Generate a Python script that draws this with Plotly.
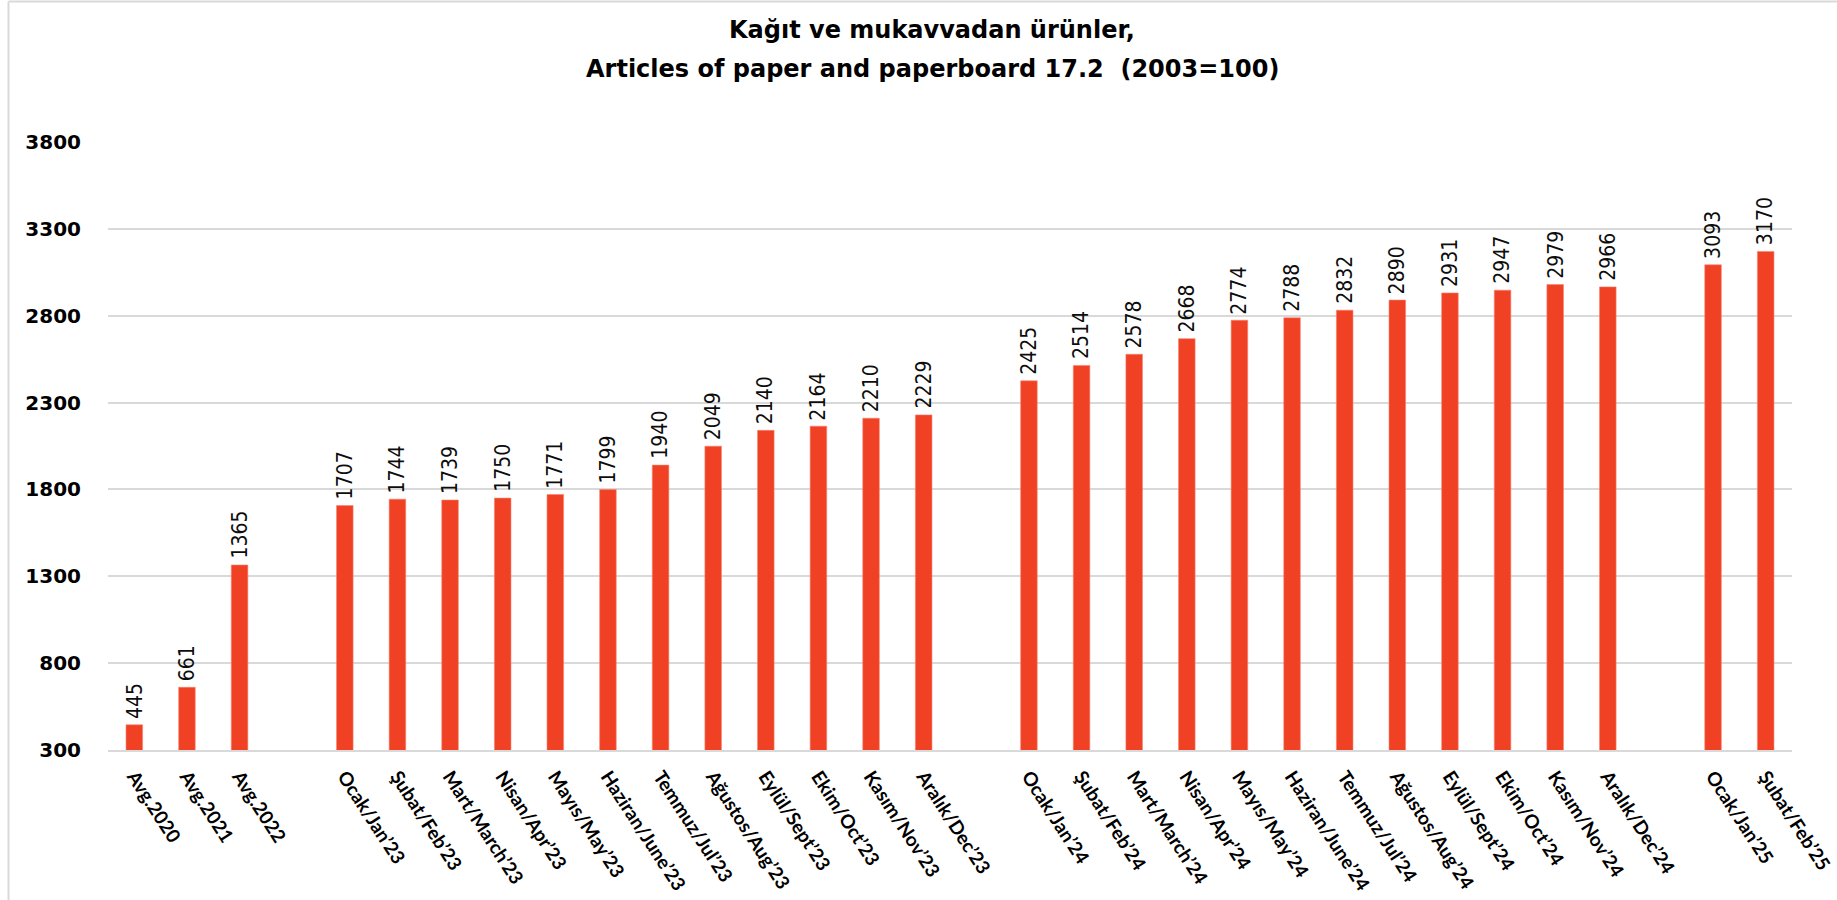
import plotly.graph_objects as go

# ---- data ----
categories = [
    "Avg.2020", "Avg.2021", "Avg.2022", " ",
    "Ocak/Jan’23", "Şubat/Feb’23", "Mart/March’23", "Nisan/Apr’23", "Mayıs/May’23",
    "Haziran/June’23", "Temmuz/Jul’23", "Ağustos/Aug’23", "Eylül/Sept’23",
    "Ekim/Oct’23", "Kasım/Nov’23", "Aralık/Dec’23", "  ",
    "Ocak/Jan’24", "Şubat/Feb’24", "Mart/March’24", "Nisan/Apr’24", "Mayıs/May’24",
    "Haziran/June’24", "Temmuz/Jul’24", "Ağustos/Aug’24", "Eylül/Sept’24",
    "Ekim/Oct’24", "Kasım/Nov’24", "Aralık/Dec’24", "   ",
    "Ocak/Jan’25", "Şubat/Feb’25",
]
values = [
    445, 661, 1365, None,
    1707, 1744, 1739, 1750, 1771, 1799, 1940, 2049, 2140, 2164, 2210, 2229, None,
    2425, 2514, 2578, 2668, 2774, 2788, 2832, 2890, 2931, 2947, 2979, 2966, None,
    3093, 3170,
]
y_ticks = [300, 800, 1300, 1800, 2300, 2800, 3300, 3800]
title_line1 = "Kağıt ve mukavvadan ürünler,"
title_line2 = "Articles of paper and paperboard 17.2  (2003=100)"

# ---- layout constants ----
W, H = 1837, 900
ML, MR, MT, MB = 108, 45, 142, 150
PW, PH = W - ML - MR, H - MT - MB
BAR_COLOR = "#F04124"
GRID = "#D9D9D9"


def px_x(X):
    return (X - ML) / PW


def px_y(Y):
    return (H - MB - Y) / PH


fig = go.Figure()
fig.add_trace(go.Bar(
    x=categories, y=values,
    marker=dict(color=BAR_COLOR, line=dict(color="#F6836F", width=0.6)),
    hoverinfo="x+y",
))

annotations = []
for c, v in zip(categories, values):
    if v is None:
        continue
    annotations.append(dict(
        x=c, y=v, xref="x", yref="y", text=str(v), showarrow=False,
        textangle=-90, xanchor="center", yanchor="bottom", yshift=4,
        font=dict(family="DejaVu Sans Condensed, Lato, sans-serif", size=21, color="#0d0d0d"),
    ))

TITLE_FONT = dict(family="DejaVu Sans, sans-serif", size=24, color="#000000", weight="bold")
annotations.append(dict(
    x=px_x(932), y=px_y(30), xref="paper", yref="paper", text=title_line1,
    showarrow=False, xanchor="center", yanchor="middle", font=TITLE_FONT,
))
annotations.append(dict(
    x=px_x(932), y=px_y(69), xref="paper", yref="paper", text=title_line2,
    showarrow=False, xanchor="center", yanchor="middle", font=TITLE_FONT,
))

shapes = [
    dict(type="line", xref="paper", yref="paper",
         x0=px_x(8.5), x1=px_x(W + 20), y0=px_y(1.5), y1=px_y(1.5),
         line=dict(color=GRID, width=2)),
    dict(type="line", xref="paper", yref="paper",
         x0=px_x(8.5), x1=px_x(8.5), y0=px_y(1.5), y1=px_y(H + 20),
         line=dict(color=GRID, width=2)),
]

fig.update_layout(
    width=W, height=H,
    margin=dict(l=ML, r=MR, t=MT, b=MB, pad=0, autoexpand=False),
    paper_bgcolor="white", plot_bgcolor="white",
    showlegend=False,
    bargap=0.685,
    annotations=annotations,
    shapes=shapes,
    xaxis=dict(
        type="category", categoryorder="array", categoryarray=categories,
        tickangle=57, showgrid=False, showline=True, linecolor=GRID, linewidth=2,
        ticks="", ticklabelstandoff=6, automargin=False,
        tickfont=dict(family="Lato, sans-serif", size=19, color="#000000", weight="bold"),
    ),
    yaxis=dict(
        range=[300, 3800], tickvals=y_ticks, ticktext=[str(t) for t in y_ticks],
        showgrid=True, gridcolor=GRID, gridwidth=2, zeroline=False, showline=False,
        ticks="", ticklabelstandoff=26, automargin=False,
        tickfont=dict(family="DejaVu Sans, sans-serif", size=20, color="#000000", weight="bold"),
    ),
)

fig.write_html(
    "out.html",
    config={"displayModeBar": False},
    post_script="document.body.style.margin='0';document.body.style.overflow='hidden';",
)
